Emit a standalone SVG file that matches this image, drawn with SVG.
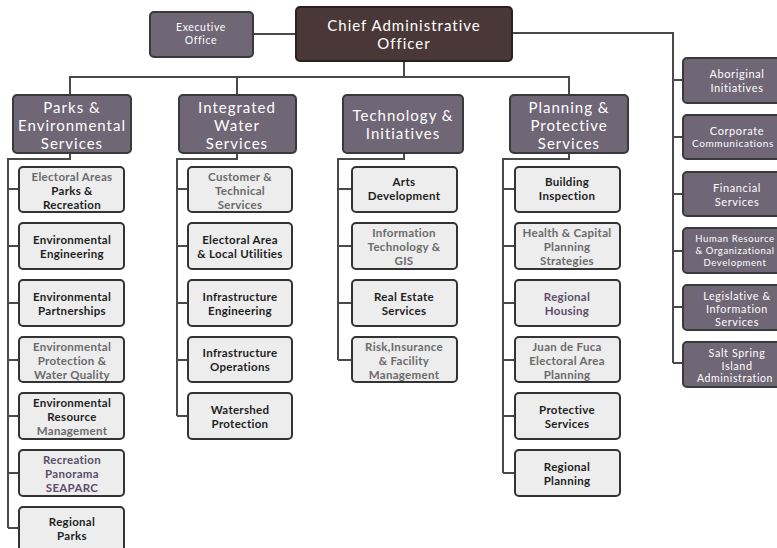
<svg xmlns="http://www.w3.org/2000/svg" width="777" height="548" viewBox="0 0 777 548">
<style>
  .hdr rect { fill: #6f6676; stroke: #3a3a3a; stroke-width: 2; }
  .cao rect { fill: #4a3838; stroke: #2a2020; stroke-width: 2; }
  .sub rect { fill: #ededed; stroke: #333; stroke-width: 2; }
  .ht { font-family: Lato, "Open Sans", "Liberation Sans", sans-serif; fill: #fff; text-anchor: middle; dominant-baseline: central; letter-spacing: 0.6px; }
  .hh { font-size: 15px; letter-spacing: 1px; }
  .st { font-family: Lato, "Open Sans", "Liberation Sans", sans-serif; font-weight: 700; font-size: 11.5px; letter-spacing: 0.3px; fill: #1e1e1e; text-anchor: middle; dominant-baseline: central; }
  .fd { fill: #6a6a6a; }
  .pu { fill: #5a4d6a; }
  #connectors path { fill: none; stroke: #4a4a4a; stroke-width: 2; }
</style>
<rect width="777" height="548" fill="#fff"/>
<g id="connectors">
  <path d="M253 34 H296"/>
  <path d="M512 33 H673 V363"/>
  <path d="M673 80 H683 M673 137 H683 M673 194 H683 M673 251 H683 M673 307 H683 M673 363 H683"/>
  <path d="M404 61 V77 M70 95 V77 H569 V95 M237 77 V95"/>
  <path d="M70 153 V159 H8 V528 M8 189 H19 M8 246 H19 M8 303 H19 M8 360 H19 M8 416 H19 M8 473 H19 M8 528 H19"/>
  <path d="M237 153 V159 H177 V416 M177 189 H188 M177 246 H188 M177 303 H188 M177 360 H188 M177 416 H188"/>
  <path d="M404 153 V159 H338 V360 M338 189 H352 M338 246 H352 M338 303 H352 M338 360 H352"/>
  <path d="M569 153 V159 H503 V473 M503 189 H515 M503 246 H515 M503 303 H515 M503 360 H515 M503 416 H515 M503 473 H515"/>
</g>
<g id="cao" class="cao"><rect x="296" y="7" width="216" height="54" rx="4"/>
  <text class="ht hh" x="404" y="25" font-size="16">Chief Administrative</text>
  <text class="ht hh" x="404" y="43">Officer</text></g>
<g id="exec" class="hdr"><rect x="150" y="12" width="103" height="45" rx="4"/>
  <text class="ht" x="201" y="27" font-size="10.5">Executive</text>
  <text class="ht" x="201" y="40" font-size="10.5">Office</text></g>

<g id="parks" class="hdr"><rect x="13" y="95" width="118" height="58" rx="4"/>
  <text class="ht hh" x="72" y="107">Parks &amp;</text>
  <text class="ht hh" x="72" y="125">Environmental</text>
  <text class="ht hh" x="72" y="143">Services</text></g>
<g id="water" class="hdr"><rect x="179" y="95" width="117" height="58" rx="4"/>
  <text class="ht hh" x="237" y="107">Integrated</text>
  <text class="ht hh" x="237" y="125">Water</text>
  <text class="ht hh" x="237" y="143">Services</text></g>
<g id="tech" class="hdr"><rect x="343" y="95" width="120" height="58" rx="4"/>
  <text class="ht hh" x="403" y="115">Technology &amp;</text>
  <text class="ht hh" x="403" y="133">Initiatives</text></g>
<g id="planning" class="hdr"><rect x="510" y="95" width="118" height="58" rx="4"/>
  <text class="ht hh" x="569" y="107">Planning &amp;</text>
  <text class="ht hh" x="569" y="125">Protective</text>
  <text class="ht hh" x="569" y="143">Services</text></g>

<g id="aboriginal" class="hdr"><rect x="683" y="58" width="108" height="45" rx="4"/>
  <text class="ht" x="737" y="73" font-size="11">Aboriginal</text>
  <text class="ht" x="737" y="87" font-size="11">Initiatives</text></g>
<g id="corporate" class="hdr"><rect x="683" y="115" width="108" height="44" rx="4"/>
  <text class="ht" x="737" y="130" font-size="11">Corporate</text>
  <text class="ht" x="733" y="143" font-size="10" letter-spacing="0">Communications</text></g>
<g id="financial" class="hdr"><rect x="683" y="172" width="108" height="44" rx="4"/>
  <text class="ht" x="737" y="187" font-size="11">Financial</text>
  <text class="ht" x="737" y="201" font-size="11">Services</text></g>
<g id="hr" class="hdr"><rect x="683" y="228" width="108" height="45" rx="4"/>
  <text class="ht" x="735" y="238" font-size="9.5" letter-spacing="0.2">Human Resource</text>
  <text class="ht" x="735" y="250" font-size="9.5" letter-spacing="0.2">&amp; Organizational</text>
  <text class="ht" x="735" y="262" font-size="9.5" letter-spacing="0.2">Development</text></g>
<g id="legislative" class="hdr"><rect x="683" y="285" width="108" height="45" rx="4"/>
  <text class="ht" x="737" y="295" font-size="10.8">Legislative &amp;</text>
  <text class="ht" x="737" y="308" font-size="10.8">Information</text>
  <text class="ht" x="737" y="321" font-size="10.8">Services</text></g>
<g id="saltspring" class="hdr"><rect x="683" y="342" width="108" height="45" rx="4"/>
  <text class="ht" x="737" y="352" font-size="10.8">Salt Spring</text>
  <text class="ht" x="737" y="365" font-size="10.8">Island</text>
  <text class="ht" x="735" y="378" font-size="10.5" letter-spacing="0.3">Administration</text></g>

<!-- Parks column -->
<g id="p1" class="sub"><rect x="19" y="167" width="105" height="45" rx="4"/>
  <text class="st fd" x="72" y="176">Electoral Areas</text><text class="st" x="72" y="190">Parks &amp;</text><text class="st" x="72" y="204">Recreation</text></g>
<g id="p2" class="sub"><rect x="19" y="223" width="105" height="46" rx="4"/>
  <text class="st" x="72" y="239">Environmental</text><text class="st" x="72" y="253">Engineering</text></g>
<g id="p3" class="sub"><rect x="19" y="280" width="105" height="46" rx="4"/>
  <text class="st" x="72" y="296">Environmental</text><text class="st" x="72" y="310">Partnerships</text></g>
<g id="p4" class="sub"><rect x="19" y="337" width="105" height="45" rx="4"/>
  <text class="st fd" x="72" y="346">Environmental</text><text class="st fd" x="72" y="360">Protection &amp;</text><text class="st fd" x="72" y="374">Water Quality</text></g>
<g id="p5" class="sub"><rect x="19" y="393" width="105" height="46" rx="4"/>
  <text class="st" x="72" y="402">Environmental</text><text class="st" x="72" y="416">Resource</text><text class="st fd" x="72" y="430">Management</text></g>
<g id="p6" class="sub"><rect x="19" y="450" width="105" height="46" rx="4"/>
  <text class="st pu" x="72" y="459">Recreation</text><text class="st pu" x="72" y="473">Panorama</text><text class="st pu" x="72" y="487">SEAPARC</text></g>
<g id="p7" class="sub"><rect x="19" y="507" width="105" height="46" rx="4"/>
  <text class="st" x="72" y="521">Regional</text><text class="st" x="72" y="535">Parks</text></g>

<!-- Water column -->
<g id="w1" class="sub"><rect x="188" y="167" width="104" height="45" rx="4"/>
  <text class="st fd" x="240" y="176">Customer &amp;</text><text class="st fd" x="240" y="190">Technical</text><text class="st fd" x="240" y="204">Services</text></g>
<g id="w2" class="sub"><rect x="188" y="223" width="104" height="46" rx="4"/>
  <text class="st" x="240" y="239">Electoral Area</text><text class="st" x="240" y="253">&amp; Local Utilities</text></g>
<g id="w3" class="sub"><rect x="188" y="280" width="104" height="46" rx="4"/>
  <text class="st" x="240" y="296">Infrastructure</text><text class="st" x="240" y="310">Engineering</text></g>
<g id="w4" class="sub"><rect x="188" y="337" width="104" height="45" rx="4"/>
  <text class="st" x="240" y="352">Infrastructure</text><text class="st" x="240" y="366">Operations</text></g>
<g id="w5" class="sub"><rect x="188" y="393" width="104" height="46" rx="4"/>
  <text class="st" x="240" y="409">Watershed</text><text class="st" x="240" y="423">Protection</text></g>

<!-- Tech column -->
<g id="t1" class="sub"><rect x="352" y="167" width="105" height="45" rx="4"/>
  <text class="st" x="404" y="181">Arts</text><text class="st" x="404" y="195">Development</text></g>
<g id="t2" class="sub"><rect x="352" y="223" width="105" height="46" rx="4"/>
  <text class="st fd" x="404" y="232">Information</text><text class="st fd" x="404" y="246">Technology &amp;</text><text class="st fd" x="404" y="260">GIS</text></g>
<g id="t3" class="sub"><rect x="352" y="280" width="105" height="46" rx="4"/>
  <text class="st" x="404" y="296">Real Estate</text><text class="st" x="404" y="310">Services</text></g>
<g id="t4" class="sub"><rect x="352" y="337" width="105" height="45" rx="4"/>
  <text class="st fd" x="404" y="346">Risk,Insurance</text><text class="st fd" x="404" y="360">&amp; Facility</text><text class="st fd" x="404" y="374">Management</text></g>

<!-- Planning column -->
<g id="pl1" class="sub"><rect x="515" y="167" width="105" height="45" rx="4"/>
  <text class="st" x="567" y="181">Building</text><text class="st" x="567" y="195">Inspection</text></g>
<g id="pl2" class="sub"><rect x="515" y="223" width="105" height="46" rx="4"/>
  <text class="st fd" x="567" y="232">Health &amp; Capital</text><text class="st fd" x="567" y="246">Planning</text><text class="st fd" x="567" y="260">Strategies</text></g>
<g id="pl3" class="sub"><rect x="515" y="280" width="105" height="46" rx="4"/>
  <text class="st pu" x="567" y="296">Regional</text><text class="st pu" x="567" y="310">Housing</text></g>
<g id="pl4" class="sub"><rect x="515" y="337" width="105" height="45" rx="4"/>
  <text class="st fd" x="567" y="346">Juan de Fuca</text><text class="st fd" x="567" y="360">Electoral Area</text><text class="st fd" x="567" y="374">Planning</text></g>
<g id="pl5" class="sub"><rect x="515" y="393" width="105" height="46" rx="4"/>
  <text class="st" x="567" y="409">Protective</text><text class="st" x="567" y="423">Services</text></g>
<g id="pl6" class="sub"><rect x="515" y="450" width="105" height="46" rx="4"/>
  <text class="st" x="567" y="466">Regional</text><text class="st" x="567" y="480">Planning</text></g>
</svg>
